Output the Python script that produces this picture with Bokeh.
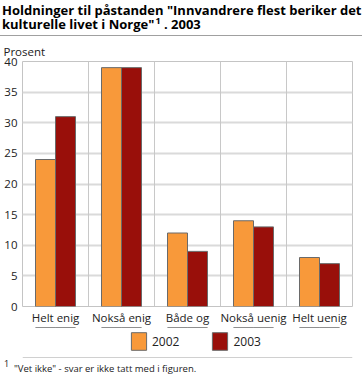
from bokeh.plotting import figure
from bokeh.layouts import column
from bokeh.models import (FactorRange, FixedTicker, Span, Div, Range1d,
                          Legend, LegendItem, ColumnDataSource)
from bokeh.transform import dodge
from bokeh.embed import file_html
from bokeh.resources import INLINE

# ---- data ----
categories = ["Helt enig", "Nokså enig", "Både og", "Nokså uenig", "Helt uenig"]
series_names = ["2002", "2003"]
values_2002 = [24, 39, 12, 14, 8]
values_2003 = [31, 39, 9, 13, 7]
y_ticks = [0, 5, 10, 15, 20, 25, 30, 35, 40]
title_line1 = "Holdninger til påstanden \"Innvandrere flest beriker det"
title_line2 = "kulturelle livet i Norge\""
title_sup = "1"
title_end = " . 2003"
y_unit = "Prosent"
footnote_mark = "1"
footnote = "\"Vet ikke\" - svar er ikke tatt med i figuren."

FONT = "Open Sans"
ORANGE = "#F8993A"
DARKRED = "#990F0A"
SEP = "#a0a0a0"
BAR_LINE = "#6a6a6a"
W = 362

src = ColumnDataSource(dict(cat=categories, v2002=values_2002, v2003=values_2003))


def bare_fig(height, **kw):
    f = figure(width=W, height=height, output_backend="svg", toolbar_location=None,
               x_axis_type=None, y_axis_type=None, min_border_left=0, min_border_right=0,
               min_border_top=0, min_border_bottom=0, margin=0, **kw)
    f.outline_line_color = None
    f.xgrid.grid_line_color = None
    f.ygrid.grid_line_color = None
    f.background_fill_color = "white"
    f.border_fill_color = "white"
    return f


# --- title (0..36) with separator line at row 35 ---
title_div = Div(
    width=W, height=36, margin=0,
    text=(f"<div style=\"position:relative;height:36px;font-family:'{FONT}';font-weight:bold;"
          f"font-size:13px;line-height:13px;color:#000;white-space:nowrap;\">"
          f"<div style=\"position:absolute;left:2px;top:4px;\">{title_line1}</div>"
          f"<div style=\"position:absolute;left:2px;top:18px;\">{title_line2}"
          f"<span style=\"font-size:9px;position:relative;top:-5px;margin-left:1px;\">{title_sup}</span>"
          f"{title_end}</div>"
          f"<svg width=\"{W}\" height=\"1\" style=\"position:absolute;left:0;top:35px;display:block;\">"
          f"<rect x=\"0\" y=\"0\" width=\"{W}\" height=\"1\" fill=\"{SEP}\"/></svg>"
          f"</div>"))

# --- chart (36..327), frame 61..307; unit label as the plot title ---
p = figure(x_range=FactorRange(*categories, range_padding=0), y_range=(0, 40),
           width=W, height=291, output_backend="svg", toolbar_location=None,
           min_border_left=22, min_border_right=10, min_border_top=25,
           min_border_bottom=20, margin=0, title=y_unit)
p.title.align = "left"
p.title.offset = -19
p.title.standoff = 5
p.title.text_font = FONT
p.title.text_font_size = "11.5px"
p.title.text_font_style = "normal"
p.title.text_color = "#222222"

bw = 20 / 66
r1 = p.vbar(x=dodge("cat", -bw / 2, range=p.x_range), top="v2002", width=bw, source=src,
            fill_color=ORANGE, line_color=BAR_LINE, line_width=1)
r2 = p.vbar(x=dodge("cat", bw / 2, range=p.x_range), top="v2003", width=bw, source=src,
            fill_color=DARKRED, line_color=BAR_LINE, line_width=1)

p.yaxis.ticker = FixedTicker(ticks=y_ticks)
for ax in (p.xaxis[0], p.yaxis[0]):
    ax.axis_line_color = None
    ax.major_tick_line_color = None
    ax.minor_tick_line_color = None
    ax.major_tick_out = 0
    ax.major_tick_in = 0
    ax.minor_tick_out = 0
    ax.major_label_text_font = FONT
    ax.major_label_text_font_size = "11.5px"
    ax.major_label_text_color = "#222222"
    ax.major_label_standoff = 5
p.xaxis.major_label_standoff = 3

p.ygrid.grid_line_color = "#dadada"
p.ygrid.grid_line_width = 2
p.xgrid.grid_line_color = None
for i in range(1, len(categories)):
    p.add_layout(Span(location=i, dimension="height", line_color="#c8c8c8", line_width=1))

p.outline_line_color = "#c4c4c4"
p.outline_line_width = 1
p.background_fill_color = "white"
p.border_fill_color = "white"

# --- legend strip + bottom separator (327..358); bars are out of view, only legend shows ---
lg = bare_fig(31, x_range=p.x_range, y_range=Range1d(-31, 0))
k1 = lg.vbar(x=dodge("cat", -bw / 2, range=p.x_range), top="v2002", width=bw, source=src,
             fill_color=ORANGE, line_color=BAR_LINE, line_width=1)
k2 = lg.vbar(x=dodge("cat", bw / 2, range=p.x_range), top="v2003", width=bw, source=src,
             fill_color=DARKRED, line_color=BAR_LINE, line_width=1)
legend = Legend(items=[LegendItem(label=series_names[0], renderers=[k1]),
                       LegendItem(label=series_names[1], renderers=[k2])],
                location=(107, 6), orientation="horizontal",
                glyph_width=19, glyph_height=22, label_standoff=4, spacing=31,
                padding=0, margin=0, border_line_alpha=0, background_fill_alpha=0,
                label_text_font=FONT, label_text_font_size="12px",
                label_text_color="#222222")
lg.add_layout(legend)
lg.add_layout(Span(location=-30.5, dimension="width", line_color=SEP, line_width=1))

# --- footnote (358..376) ---
foot_div = Div(
    width=W, height=18, margin=0,
    text=(f"<div style=\"height:18px;position:relative;font-family:'{FONT}';color:#222;white-space:nowrap;\">"
          f"<span style=\"position:absolute;left:4px;top:1px;font-size:9px;line-height:10px;\">{footnote_mark}</span>"
          f"<span style=\"position:absolute;left:14px;top:5px;font-size:9.5px;line-height:11px;\">{footnote}</span>"
          f"</div>"))

layout = column(title_div, p, lg, foot_div, spacing=0, margin=0)

open("out.html", "w").write(file_html(layout, INLINE))
